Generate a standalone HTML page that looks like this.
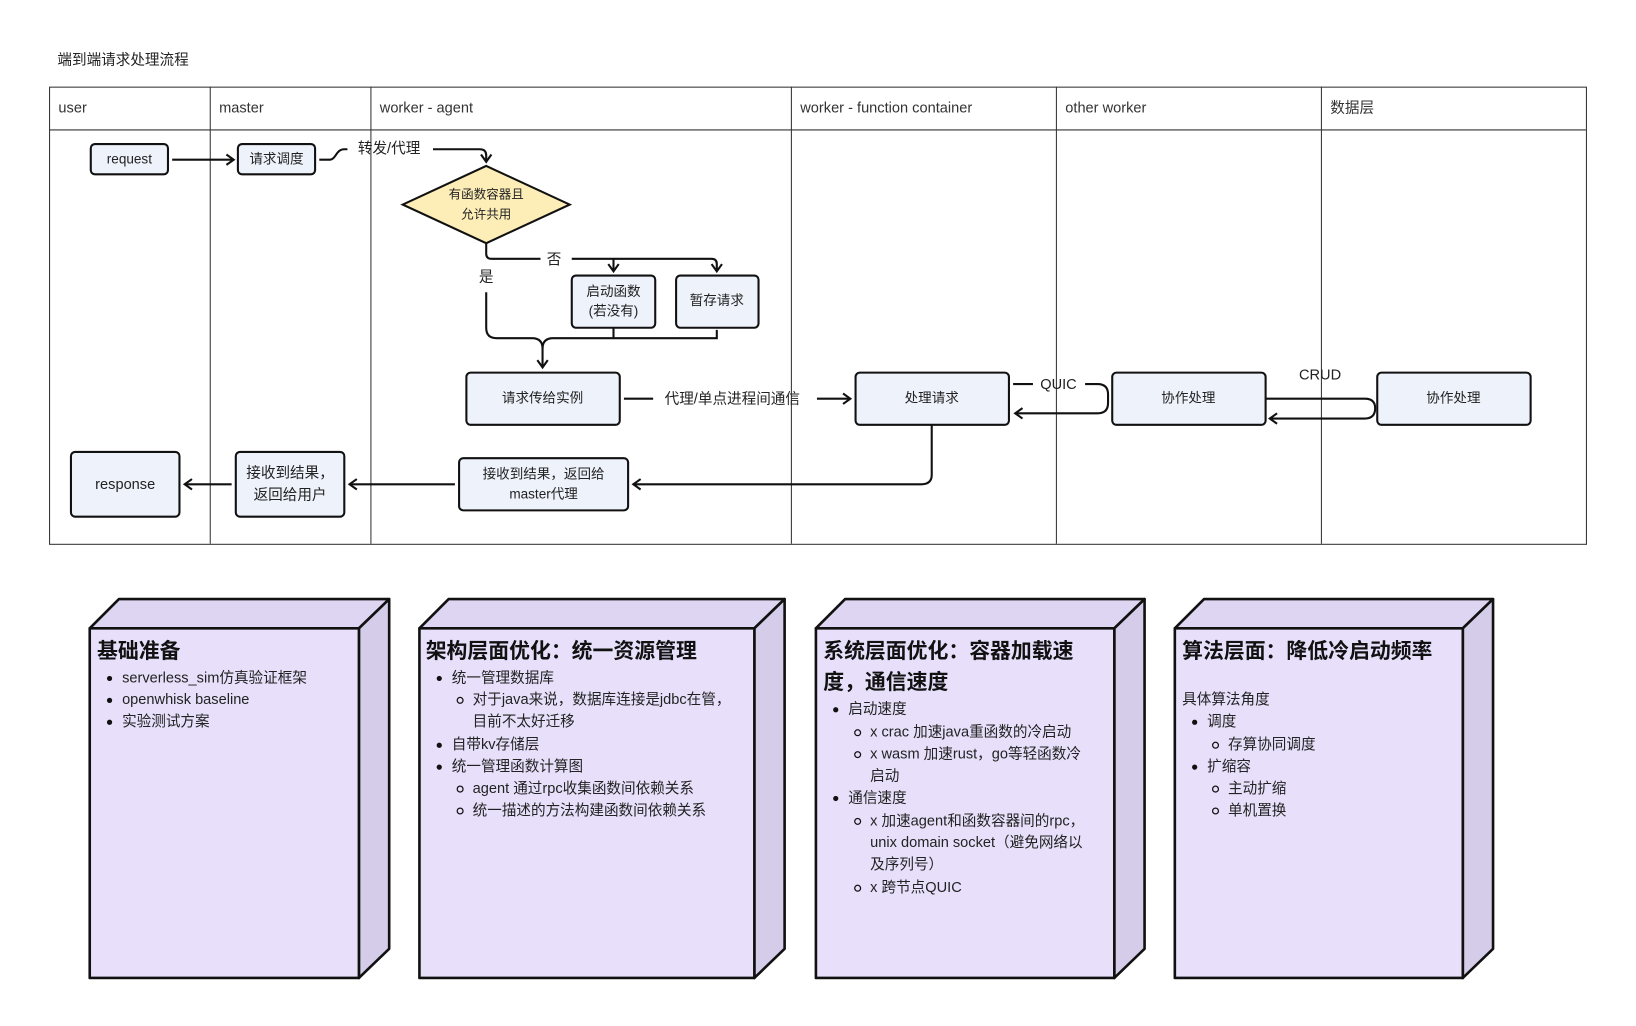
<!DOCTYPE html>
<html><head><meta charset="utf-8"><style>
html,body{margin:0;padding:0;background:#fff;}
svg{display:block;font-family:"Liberation Sans","Noto Sans CJK SC",sans-serif;}
</style></head><body>
<svg width="1636" height="1026" viewBox="0 0 1568 983" preserveAspectRatio="none" xmlns="http://www.w3.org/2000/svg">
<defs>
<marker id="a" markerWidth="12" markerHeight="12" refX="9" refY="6" orient="auto" markerUnits="userSpaceOnUse">
<path d="M2,1 L9,6 L2,11" fill="none" stroke="#111" stroke-width="2"/>
</marker>
</defs>
<rect width="1568" height="983" fill="#fff"/>
<text x="55" y="58" font-size="14" dominant-baseline="middle" fill="#222">端到端请求处理流程</text>
<g stroke="#333" stroke-width="1" fill="none">
<rect x="47.5" y="83.5" width="1473" height="438"/>
<line x1="47" y1="124.5" x2="1520" y2="124.5"/>
<line x1="201.5" y1="83" x2="201.5" y2="521"/>
<line x1="355.5" y1="83" x2="355.5" y2="521"/>
<line x1="758.5" y1="83" x2="758.5" y2="521"/>
<line x1="1012.5" y1="83" x2="1012.5" y2="521"/>
<line x1="1266.5" y1="83" x2="1266.5" y2="521"/>
</g>
<g font-size="14" fill="#333" dominant-baseline="middle">
<text x="56" y="104">user</text>
<text x="210" y="104">master</text>
<text x="364" y="104">worker - agent</text>
<text x="767" y="104">worker - function container</text>
<text x="1021" y="104">other worker</text>
<text x="1275" y="104">数据层</text>
</g>
<g fill="#eef2fb" stroke="#111" stroke-width="2">
<rect x="87" y="138" width="74" height="29" rx="4"/>
<rect x="228" y="138" width="74" height="29" rx="4"/>
<rect x="548" y="264" width="80" height="50" rx="4"/>
<rect x="648" y="264" width="79" height="50" rx="4"/>
<rect x="447" y="357" width="147" height="50" rx="4"/>
<rect x="820" y="357" width="147" height="50" rx="4"/>
<rect x="1066" y="357" width="147" height="50" rx="4"/>
<rect x="1320" y="357" width="147" height="50" rx="4"/>
<rect x="68" y="433" width="104" height="62" rx="4"/>
<rect x="226" y="433" width="104" height="62" rx="4"/>
<rect x="440" y="439" width="162" height="50" rx="4"/>
</g>
<polygon points="466,159 546,196 466,233 386,196" fill="#fdeeb8" stroke="#111" stroke-width="2"/>
<g font-size="13" fill="#222" text-anchor="middle" dominant-baseline="middle">
<text x="124" y="153">request</text>
<text x="265" y="153">请求调度</text>
<text x="466" y="187" font-size="12">有函数容器且</text>
<text x="466" y="206" font-size="12">允许共用</text>
<text x="588" y="280">启动函数</text>
<text x="588" y="299">(若没有)</text>
<text x="687" y="289">暂存请求</text>
<text x="520" y="382">请求传给实例</text>
<text x="893" y="382">处理请求</text>
<text x="1139" y="382">协作处理</text>
<text x="1393" y="382">协作处理</text>
<text x="120" y="465" font-size="14">response</text>
<text x="278" y="454" font-size="14">接收到结果，</text>
<text x="278" y="475" font-size="14">返回给用户</text>
<text x="521" y="455">接收到结果，返回给</text>
<text x="521" y="474">master代理</text>
</g>
<g fill="none" stroke="#111" stroke-width="2">
<line x1="165" y1="153" x2="224" y2="153" marker-end="url(#a)"/>
<path d="M306,153 L316,153 C322,153 322,143 330,143 L333,143"/>
<path d="M415,143 L460,143 Q466,143 466,149 L466,155" marker-end="url(#a)"/>
<path d="M466,233 L466,243 Q466,248 471,248 L518,248"/>
<path d="M548,248 L682,248 Q687,248 687,253 L687,260" marker-end="url(#a)"/>
<path d="M588,248 L588,260" marker-end="url(#a)"/>
<path d="M466,280 L466,314 Q466,324 476,324 L510,324 Q520,324 520,334 L520,352" marker-end="url(#a)"/>
<path d="M520,334 Q520,324 530,324 L687,324 L687,316"/>
<path d="M588,314 L588,324"/>
<line x1="598" y1="382" x2="626" y2="382"/>
<line x1="783" y1="382" x2="815" y2="382" marker-end="url(#a)"/>
<line x1="971" y1="368" x2="990" y2="368"/>
<path d="M1040,368 L1052,368 Q1062,368 1062,378 L1062,386 Q1062,396 1052,396 L973,396" marker-end="url(#a)"/>
<path d="M1213,382 L1308,382 Q1318,382 1318,391 Q1318,401 1308,401 L1217,401" marker-end="url(#a)"/>
<path d="M893,407 L893,455 Q893,464 883,464 L607,464" marker-end="url(#a)"/>
<line x1="436" y1="464" x2="335" y2="464" marker-end="url(#a)"/>
<line x1="222" y1="464" x2="177" y2="464" marker-end="url(#a)"/>
</g>
<g font-size="14" fill="#222" dominant-baseline="middle">
<text x="343" y="143">转发/代理</text>
<text x="524" y="249">否</text>
<text x="459" y="266">是</text>
<text x="637" y="383">代理/单点进程间通信</text>
<text x="997" y="369">QUIC</text>
<text x="1245" y="360">CRUD</text>
</g>
<g stroke="#111" stroke-width="2.5" stroke-linejoin="round">
<polygon points="86,602 114,574 373,574 344,602" fill="#ddd5f2"/>
<polygon points="344,602 373,574 373,909 344,937" fill="#d4cce8"/>
<rect x="86" y="602" width="258" height="335" fill="#e8e0fb"/>
<polygon points="402,602 430,574 752,574 723,602" fill="#ddd5f2"/>
<polygon points="723,602 752,574 752,909 723,937" fill="#d4cce8"/>
<rect x="402" y="602" width="321" height="335" fill="#e8e0fb"/>
<polygon points="782,602 810,574 1097,574 1068,602" fill="#ddd5f2"/>
<polygon points="1068,602 1097,574 1097,909 1068,937" fill="#d4cce8"/>
<rect x="782" y="602" width="286" height="335" fill="#e8e0fb"/>
<polygon points="1126,602 1154,574 1431,574 1402,602" fill="#ddd5f2"/>
<polygon points="1402,602 1431,574 1431,909 1402,937" fill="#d4cce8"/>
<rect x="1126" y="602" width="276" height="335" fill="#e8e0fb"/>
</g>
<g font-size="20" font-weight="bold" fill="#111" dominant-baseline="middle">
<text x="93" y="625">基础准备</text>
<text x="408" y="625">架构层面优化：统一资源管理</text>
<text x="789" y="625">系统层面优化：容器加载速</text>
<text x="789" y="655">度，通信速度</text>
<text x="1133" y="625">算法层面：降低冷启动频率</text>
</g>
<g fill="#111">
<circle cx="105" cy="650" r="2.5"/><circle cx="105" cy="671" r="2.5"/><circle cx="105" cy="692" r="2.5"/>
<circle cx="421" cy="650" r="2.5"/><circle cx="421" cy="714" r="2.5"/><circle cx="421" cy="735" r="2.5"/>
<circle cx="801" cy="680" r="2.5"/><circle cx="801" cy="765" r="2.5"/>
<circle cx="1145" cy="692" r="2.5"/><circle cx="1145" cy="735" r="2.5"/>
</g>
<g fill="none" stroke="#111" stroke-width="1.2">
<circle cx="441" cy="671" r="2.8"/><circle cx="441" cy="756" r="2.8"/><circle cx="441" cy="777" r="2.8"/>
<circle cx="822" cy="702" r="2.8"/><circle cx="822" cy="723" r="2.8"/><circle cx="822" cy="787" r="2.8"/><circle cx="822" cy="851" r="2.8"/>
<circle cx="1165" cy="714" r="2.8"/><circle cx="1165" cy="756" r="2.8"/><circle cx="1165" cy="777" r="2.8"/>
</g>
<g font-size="14" fill="#222" dominant-baseline="middle">
<text x="117" y="650">serverless_sim仿真验证框架</text>
<text x="117" y="671">openwhisk baseline</text>
<text x="117" y="692">实验测试方案</text>
<text x="433" y="650">统一管理数据库</text>
<text x="453" y="671">对于java来说，数据库连接是jdbc在管，</text>
<text x="453" y="692">目前不太好迁移</text>
<text x="433" y="714">自带kv存储层</text>
<text x="433" y="735">统一管理函数计算图</text>
<text x="453" y="756">agent 通过rpc收集函数间依赖关系</text>
<text x="453" y="777">统一描述的方法构建函数间依赖关系</text>
<text x="813" y="680">启动速度</text>
<text x="834" y="702">x crac 加速java重函数的冷启动</text>
<text x="834" y="723">x wasm 加速rust，go等轻函数冷</text>
<text x="834" y="744">启动</text>
<text x="813" y="765">通信速度</text>
<text x="834" y="787">x 加速agent和函数容器间的rpc，</text>
<text x="834" y="808">unix domain socket（避免网络以</text>
<text x="834" y="829">及序列号）</text>
<text x="834" y="851">x 跨节点QUIC</text>
<text x="1133" y="671">具体算法角度</text>
<text x="1157" y="692">调度</text>
<text x="1177" y="714">存算协同调度</text>
<text x="1157" y="735">扩缩容</text>
<text x="1177" y="756">主动扩缩</text>
<text x="1177" y="777">单机置换</text>
</g>
</svg>
</body></html>
